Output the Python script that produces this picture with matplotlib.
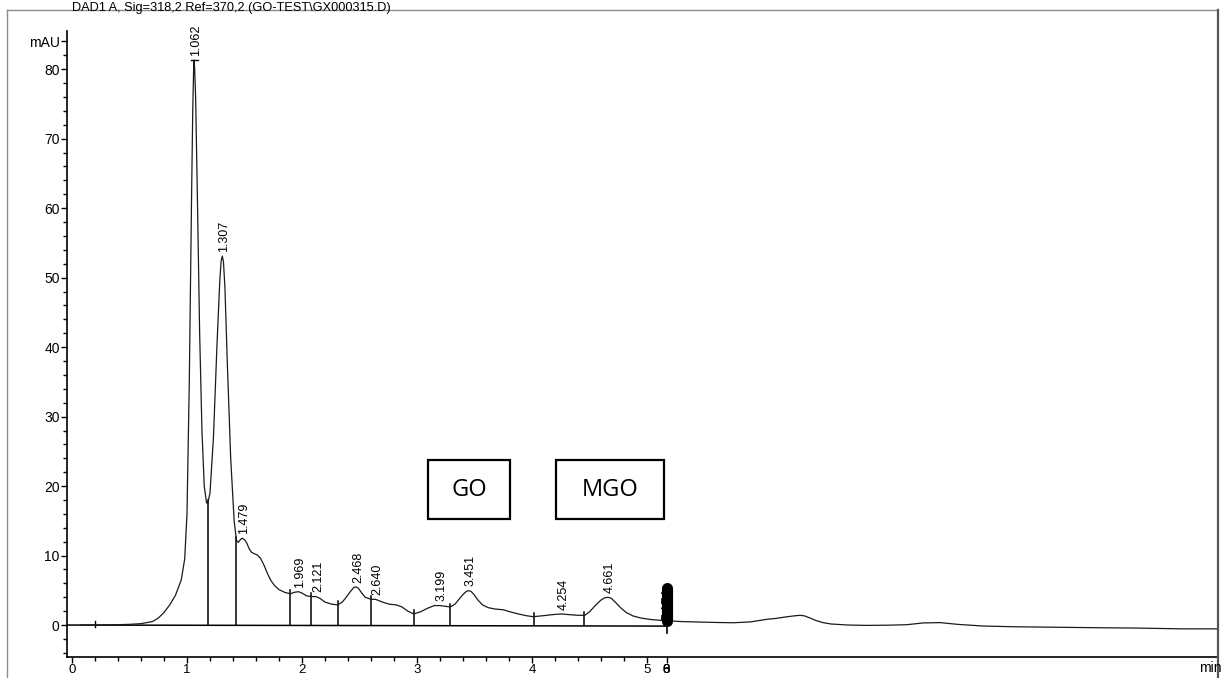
import matplotlib as mpl
mpl.use('Agg')
import matplotlib.pyplot as plt
from matplotlib.lines import Line2D
from matplotlib.patches import Rectangle

mpl.rcParams['font.family'] = ['Liberation Sans', 'DejaVu Sans']

# signal trace (time in min, signal in mAU)
trace_t = [0.08, 0.2, 0.3, 0.4, 0.5, 0.6, 0.65, 0.7, 0.75, 0.8, 0.85, 0.9, 0.95, 0.98,
           1.0, 1.02, 1.04, 1.05, 1.058, 1.062, 1.066, 1.075, 1.09, 1.11, 1.13, 1.15,
           1.17, 1.18, 1.2, 1.23, 1.26, 1.285, 1.297, 1.307, 1.317, 1.33, 1.35, 1.38,
           1.41, 1.43, 1.445, 1.465, 1.479, 1.5, 1.52, 1.54, 1.56, 1.58, 1.61, 1.64,
           1.67, 1.7, 1.73, 1.76, 1.8, 1.85, 1.9, 1.93, 1.969, 2.0, 2.04, 2.08, 2.121,
           2.16, 2.2, 2.26, 2.31, 2.35, 2.38, 2.42, 2.45, 2.468, 2.49, 2.52, 2.55, 2.6,
           2.64, 2.7, 2.76, 2.82, 2.87, 2.92, 2.97, 3.03, 3.09, 3.15, 3.199, 3.25,
           3.29, 3.33, 3.36, 3.4, 3.43, 3.451, 3.47, 3.5, 3.53, 3.57, 3.62, 3.68, 3.75,
           3.81, 3.88, 3.95, 4.01, 4.1, 4.18, 4.254, 4.32, 4.4, 4.46, 4.5, 4.55, 4.6,
           4.63, 4.661, 4.69, 4.73, 4.77, 4.82, 4.88, 4.95, 5.03, 5.1, 5.17, 5.3, 5.46,
           5.6, 5.75, 5.9, 6.04, 6.12, 6.2, 6.28, 6.33, 6.37, 6.42, 6.47, 6.53, 6.6,
           6.75, 6.91, 7.1, 7.26, 7.4, 7.55, 7.7, 7.92, 8.2, 8.65, 9.0, 9.23, 9.5,
           9.66, 9.96]
trace_v = [0.0, 0.0, 0.02, 0.05, 0.1, 0.2, 0.35, 0.5, 1.0, 1.8, 2.9, 4.3, 6.5, 9.5,
           16, 35, 62, 74, 80.3, 81.3, 80.3, 76, 62, 42, 28, 20,
           17.6, 17.5, 19, 27, 40, 49.5, 52.4, 53.1, 52.3, 48.5, 38, 24,
           15, 12.2, 11.9, 12.3, 12.5, 12.3, 11.8, 11.0, 10.5, 10.3, 10.1, 9.6,
           8.6, 7.4, 6.4, 5.7, 5.1, 4.7, 4.5, 4.7, 4.8, 4.6, 4.2, 4.1, 4.1,
           3.8, 3.3, 3.0, 2.9, 3.3, 3.9, 4.8, 5.4, 5.5, 5.3, 4.6, 4.0, 3.7,
           3.7, 3.3, 3.0, 2.9, 2.6, 2.0, 1.6, 1.9, 2.4, 2.8, 2.8, 2.7,
           2.6, 3.0, 3.6, 4.4, 4.85, 4.95, 4.85, 4.3, 3.6, 2.9, 2.5, 2.3, 2.2,
           1.9, 1.6, 1.35, 1.2, 1.35, 1.5, 1.6, 1.5, 1.4, 1.4, 1.9, 2.8, 3.6,
           3.9, 4.0, 3.85, 3.2, 2.5, 1.8, 1.3, 1.0, 0.8, 0.7, 0.62, 0.5, 0.43,
           0.37, 0.33, 0.45, 0.82, 0.95, 1.15, 1.32, 1.4, 1.32, 1.0, 0.65, 0.35, 0.15,
           0.0, -0.05, -0.02, 0.05, 0.3, 0.35, 0.1, -0.14, -0.25, -0.34, -0.4, -0.43, -0.5,
           -0.55, -0.55]

# integrated peaks: retention time labels and apex heights
peak_labels = ['1.062', '1.307', '1.479', '1.969', '2.121', '2.468', '2.640',
               '3.199', '3.451', '4.254', '4.661']
peak_t = [1.062, 1.307, 1.479, 1.969, 2.121, 2.468, 2.640, 3.199, 3.451, 4.254, 4.661]
peak_h = [81.3, 53.1, 12.5, 4.8, 4.1, 5.5, 3.7, 2.8, 4.95, 1.6, 4.0]

# peak start/end markers (drop lines to the baseline)
drop_t = [1.18, 1.43, 1.90, 2.08, 2.31, 2.60, 2.97, 3.29, 4.02, 4.45]
drop_v = [17.5, 12.2, 4.5, 4.1, 2.9, 3.7, 1.6, 2.6, 1.2, 1.4]

title = 'DAD1 A, Sig=318,2 Ref=370,2 (GO-TEST\\GX000315.D)'

fig = plt.figure(figsize=(12.25, 6.78), dpi=100)
ax = fig.add_axes([67 / 1225, 1 - 657 / 678, 1150 / 1225, 626 / 678])

# trace
ax.plot(trace_t, trace_v, color='#1a1a1a', lw=0.9, zorder=3)
# integration baseline
ax.plot([-0.04, 5.17], [0, -0.15], color='black', lw=1.1, zorder=2)

# drop lines
for t, v in zip(drop_t, drop_v):
    ax.plot([t, t], [0, v + 0.5], color='black', lw=1.1, zorder=2)
# start marker
ax.plot([0.2, 0.2], [-0.3, 0.6], color='black', lw=1.0)

# peak labels
for lab, t, h in zip(peak_labels, peak_t, peak_h):
    ax.annotate(lab, (t, h), xytext=(1.5, 3), textcoords='offset points',
                rotation=90, ha='center', va='bottom', fontsize=9)
    if lab == '1.062':
        ax.plot([t - 0.03, t + 0.03], [h, h], color='black', lw=1.0)

# messy cluster of overlapping peaks at 5.17
ax.plot([5.17, 5.17], [0.6, 5.3], color='black', lw=8, solid_capstyle='round', zorder=4)
ax.plot([5.17, 5.17], [0.4, -1.2], color='black', lw=1.2, zorder=4)
ax.annotate('5.174', (5.17, 0.7), xytext=(1, 0), textcoords='offset points',
            rotation=90, ha='center', va='bottom', fontsize=9, zorder=5)

# GO / MGO boxes
for x0, x1, lab in [(3.096, 3.809, 'GO'), (4.21, 5.148, 'MGO')]:
    ax.add_patch(Rectangle((x0, 15.2), x1 - x0, 8.5, fill=False, ec='black', lw=1.6, zorder=6))
    ax.text((x0 + x1) / 2, 19.45, lab, ha='center', va='center', fontsize=17,
            family=['Open Sans', 'DejaVu Sans'], zorder=6)

# axes
ax.set_xlim(-0.0435, 9.957)
ax.set_ylim(-4.6, 85.5)
for s in ['top', 'right']:
    ax.spines[s].set_visible(False)
ax.spines['left'].set_linewidth(1.2)
ax.spines['bottom'].set_linewidth(1.2)

ax.set_xticks([0, 1, 2, 3, 4, 5, 5.17])
ax.set_xticklabels(['0', '1', '2', '3', '4', '5', '6'])
ax.set_xticks([i * 0.2 for i in range(26)], minor=True)
ax.set_yticks([0, 10, 20, 30, 40, 50, 60, 70, 80, 84])
ax.set_yticklabels(['0', '10', '20', '30', '40', '50', '60', '70', '80', 'mAU'])
ax.set_yticks([-4 + 2 * i for i in range(45)], minor=True)
ax.tick_params(which='both', direction='out', width=1, pad=1)
ax.tick_params(axis='y', labelsize=10)
ax.tick_params(axis='x', labelsize=9.5)
ax.tick_params(which='major', length=4.3)
ax.tick_params(which='minor', length=3)
for extra in ['8', '0']:
    ax.annotate(extra, (5.17, 0), xycoords=ax.get_xaxis_transform(),
                xytext=(0, -5.3), textcoords='offset points',
                ha='center', va='top', fontsize=9.5)

# title and unit
fig.text(72 / 1225, 1 - 8 / 678, title, ha='left', va='center', fontsize=9.2)
fig.text(1199 / 1225, 1 - 668 / 678, 'min', ha='left', va='center', fontsize=10)

# frame of the report page
fig.add_artist(Line2D([7 / 1225, 7 / 1225], [0, 1 - 10 / 678], color='#8c8c8c', lw=1))
fig.add_artist(Line2D([7 / 1225, 1217 / 1225], [1 - 10 / 678, 1 - 10 / 678], color='#8c8c8c', lw=1))
fig.add_artist(Line2D([1217.5 / 1225, 1217.5 / 1225], [0, 1 - 10 / 678], color='#555555', lw=1.6))

plt.savefig('out.png', dpi=100)
